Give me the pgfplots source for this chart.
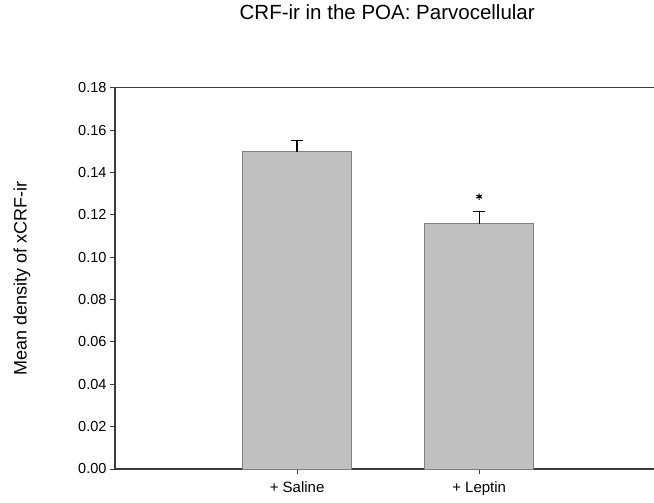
\documentclass[border=0pt]{standalone}
\usepackage{pgfplots}
\pgfplotsset{compat=1.18}
\usepackage{fontspec}
\setmainfont{Liberation Sans}
\definecolor{axcol}{HTML}{3C3C3C}
\definecolor{barfill}{HTML}{C0C0C0}
\definecolor{baredge}{HTML}{808080}
\begin{document}
\begin{tikzpicture}
\begin{axis}[
  name=ax,
  scale only axis,
  width=539pt, height=381.3pt,
  xmin=0, xmax=2.96,
  ymin=0, ymax=0.18,
  axis x line*=bottom,
  axis y line*=left,
  axis line style={axcol, line width=1.5pt},
  xtick={1,2},
  xticklabels={+ Saline, + Leptin},
  ytick={0,0.02,0.04,0.06,0.08,0.10,0.12,0.14,0.16,0.18},
  yticklabel style={/pgf/number format/.cd, fixed, fixed zerofill, precision=2, assume math mode=true},
  tick align=outside,
  major tick length=5pt,
  tick style={axcol, line width=1pt},
  ticklabel style={font=\fontsize{14.5}{16}\selectfont},
  xticklabel style={font=\fontsize{15}{17}\selectfont, yshift=-4pt},
  ylabel={Mean density of xCRF-ir},
  ylabel style={at={(axis description cs:-0.1725,0.5)}, anchor=center, font=\fontsize{18}{20}\selectfont},
  title={CRF-ir in the POA: Parvocellular},
  title style={at={(axis description cs:0.505,1)}, anchor=base, yshift=62pt, font=\fontsize{20.5}{23}\selectfont},
  clip=false,
]
\addplot[ybar, bar width=0.6, fill=barfill, draw=baredge, line width=1pt,
  error bars/.cd, y dir=plus, y explicit,
  error bar style={black, line width=1.2pt},
  error mark options={rotate=90, mark size=6pt, line width=1.2pt, black}]
  coordinates {(1,0.1497) +- (0,0.0054) (2,0.1157) +- (0,0.0058)};
\addplot[only marks, mark=asterisk, mark size=3.2pt, mark options={line width=1.1pt, black}]
  coordinates {(2,0.1286)};
\draw[axcol, line width=1.5pt] (rel axis cs:0,1) -- (rel axis cs:1,1);
\end{axis}
\pgfresetboundingbox
\path (ax.south west) ++(-115pt,-33pt) coordinate (bbA);
\path (ax.north east) ++(0pt,87.7pt) coordinate (bbB);
\useasboundingbox (bbA) rectangle (bbB);
\end{tikzpicture}
\end{document}
